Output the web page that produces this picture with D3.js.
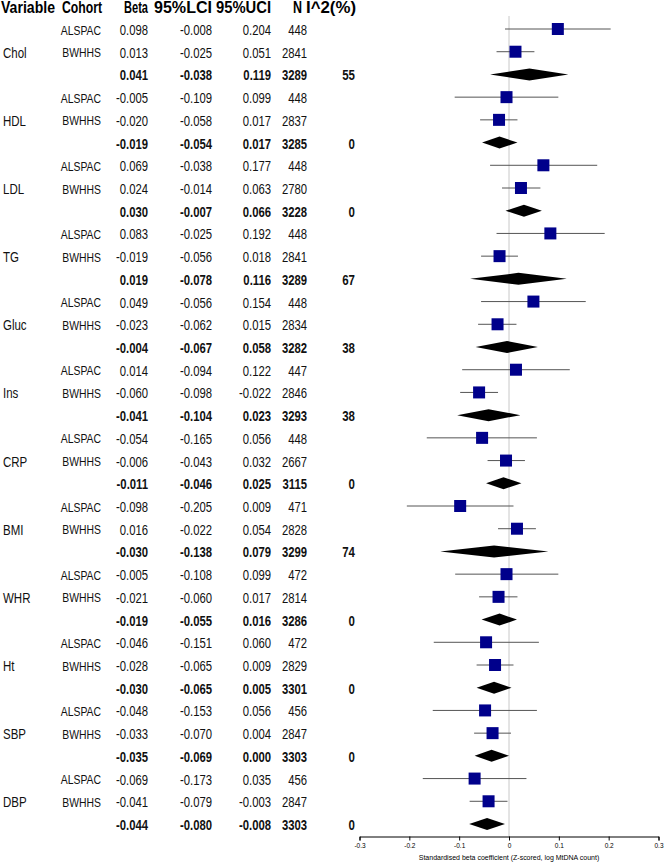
<!DOCTYPE html>
<html>
<head>
<meta charset="utf-8">
<script src="https://cdn.jsdelivr.net/npm/d3@7"></script>
<style>
  body { margin: 0; background: #fff; }
  svg text { font-family: "Liberation Sans", Arial, sans-serif; }
</style>
</head>
<body>
<div id="chart"></div>
<script>
const variables = ["Chol", "HDL", "LDL", "TG", "Gluc", "Ins", "CRP", "BMI", "WHR", "Ht", "SBP", "DBP"];
const cohorts = ["ALSPAC", "BWHHS"];

const alspacBeta = [0.098, -0.005, 0.069, 0.083, 0.049, 0.014, -0.054, -0.098, -0.005, -0.046, -0.048, -0.069];
const alspacLci  = [-0.008, -0.109, -0.038, -0.025, -0.056, -0.094, -0.165, -0.205, -0.108, -0.151, -0.153, -0.173];
const alspacUci  = [0.204, 0.099, 0.177, 0.192, 0.154, 0.122, 0.056, 0.009, 0.099, 0.060, 0.056, 0.035];
const alspacN    = [448, 448, 448, 448, 448, 447, 448, 471, 472, 472, 456, 456];

const bwhhsBeta = [0.013, -0.020, 0.024, -0.019, -0.023, -0.060, -0.006, 0.016, -0.021, -0.028, -0.033, -0.041];
const bwhhsLci  = [-0.025, -0.058, -0.014, -0.056, -0.062, -0.098, -0.043, -0.022, -0.060, -0.065, -0.070, -0.079];
const bwhhsUci  = [0.051, 0.017, 0.063, 0.018, 0.015, -0.022, 0.032, 0.054, 0.017, 0.009, 0.004, -0.003];
const bwhhsN    = [2841, 2837, 2780, 2841, 2834, 2846, 2667, 2828, 2814, 2829, 2847, 2847];

const pooledBeta = [0.041, -0.019, 0.030, 0.019, -0.004, -0.041, -0.011, -0.030, -0.019, -0.030, -0.035, -0.044];
const pooledLci  = [-0.038, -0.054, -0.007, -0.078, -0.067, -0.104, -0.046, -0.138, -0.055, -0.065, -0.069, -0.080];
const pooledUci  = [0.119, 0.017, 0.066, 0.116, 0.058, 0.023, 0.025, 0.079, 0.016, 0.005, 0.000, -0.008];
const pooledN    = [3289, 3285, 3228, 3289, 3282, 3293, 3115, 3299, 3286, 3301, 3303, 3303];
const i2         = [55, 0, 0, 67, 38, 38, 0, 74, 0, 0, 0, 0];

const xTicks = [-0.3, -0.2, -0.1, 0, 0.1, 0.2, 0.3];
const xTitle = "Standardised beta coefficient (Z-scored, log MtDNA count)";

// Build rows: ALSPAC, BWHHS, pooled for each variable
const rows = [];
variables.forEach((v, i) => {
  rows.push({ variable: "", cohort: cohorts[0], beta: alspacBeta[i], lci: alspacLci[i], uci: alspacUci[i], n: alspacN[i], i2: "", pooled: false });
  rows.push({ variable: v, cohort: cohorts[1], beta: bwhhsBeta[i], lci: bwhhsLci[i], uci: bwhhsUci[i], n: bwhhsN[i], i2: "", pooled: false });
  rows.push({ variable: "", cohort: "", beta: pooledBeta[i], lci: pooledLci[i], uci: pooledUci[i], n: pooledN[i], i2: i2[i], pooled: true });
});

const width = 664, height = 862;
const svg = d3.select("#chart").append("svg")
  .attr("width", width)
  .attr("height", height);

const y = d3.scaleLinear().domain([0, rows.length - 1]).range([29, 824]);
const x = d3.scaleLinear().domain([-0.3, 0.3]).range([359.5, 658.5]);
const axisY = 836.5;
const stretch = 1.25; // text in the picture is taller than it is wide

const fmt = v => v.toFixed(3);

// Header (widths forced to match the picture)
const header = [
  { t: "Variable", x: 1, a: "start", w: 54 },
  { t: "Cohort", x: 102, a: "end", w: 40 },
  { t: "Beta", x: 148, a: "end", w: 24 },
  { t: "95%LCI", x: 212, a: "end", w: 58 },
  { t: "95%UCI", x: 271, a: "end", w: 55 },
  { t: "N", x: 302, a: "end", w: 9 },
  { t: "I^2(%)", x: 356, a: "end", w: 50 }
];
svg.append("g").selectAll("text")
  .data(header)
  .join("text")
    .attr("transform", d => `translate(${d.x},8) scale(1,${stretch})`)
    .attr("dy", "0.35em")
    .attr("text-anchor", d => d.a)
    .attr("font-size", "12.5px")
    .attr("font-weight", "bold")
    .attr("textLength", d => d.w)
    .attr("lengthAdjust", "spacingAndGlyphs")
    .text(d => d.t);

// Table columns
const cols = [
  { key: d => d.variable, x: 3, a: "start", fs: 11.5 },
  { key: d => d.cohort, x: 101, a: "end", fs: 10.4 },
  { key: d => fmt(d.beta), x: 148, a: "end", fs: 11.3 },
  { key: d => fmt(d.lci), x: 212, a: "end", fs: 11.3 },
  { key: d => fmt(d.uci), x: 271, a: "end", fs: 11.3 },
  { key: d => d.n, x: 307, a: "end", fs: 11.3 },
  { key: d => d.i2, x: 355, a: "end", fs: 11.5 }
];
const table = svg.append("g");
cols.forEach(c => {
  table.append("g").selectAll("text")
    .data(rows)
    .join("text")
      .attr("transform", (d, i) => `translate(${c.x},${y(i) + 1}) scale(1,${stretch})`)
      .attr("dy", "0.35em")
      .attr("text-anchor", c.a)
      .attr("font-size", c.fs + "px")
      .attr("font-weight", d => d.pooled ? "bold" : "normal")
      .attr("fill", "#111")
      .text(c.key);
});

// Zero reference line
svg.append("line")
  .attr("x1", x(0)).attr("x2", x(0))
  .attr("y1", 16).attr("y2", axisY)
  .attr("stroke", "#c8c8c8")
  .attr("stroke-width", 1);

const studies = rows.filter(d => !d.pooled);
const pooled = rows.filter(d => d.pooled);
const idx = d => rows.indexOf(d);

// CI lines
svg.append("g").selectAll("line")
  .data(studies)
  .join("line")
    .attr("x1", d => x(d.lci))
    .attr("x2", d => x(d.uci))
    .attr("y1", d => y(idx(d)))
    .attr("y2", d => y(idx(d)))
    .attr("stroke", "#555")
    .attr("stroke-width", 1);

// Squares
const sq = 12;
svg.append("g").selectAll("rect")
  .data(studies)
  .join("rect")
    .attr("x", d => x(d.beta) - sq / 2)
    .attr("y", d => y(idx(d)) - sq / 2)
    .attr("width", sq)
    .attr("height", sq)
    .attr("fill", "#00008b");

// Diamonds
svg.append("g").selectAll("polygon")
  .data(pooled)
  .join("polygon")
    .attr("points", d => {
      const yy = y(idx(d));
      return [[x(d.lci), yy], [x(d.beta), yy - 6], [x(d.uci), yy], [x(d.beta), yy + 6]].join(" ");
    })
    .attr("fill", "#000");

// X axis
const axis = svg.append("g")
  .attr("transform", `translate(0,${axisY})`)
  .call(d3.axisBottom(x).tickValues(xTicks).tickSize(4).tickPadding(3)
    .tickFormat(d => d === 0 ? "0" : String(d).replace("\u2212", "-")));
axis.select(".domain").attr("stroke", "#000");
axis.selectAll("line").attr("stroke", "#000");
axis.selectAll("text")
  .attr("font-family", "Liberation Sans, Arial, sans-serif")
  .attr("font-size", "6.5px")
  .attr("fill", "#000");

svg.append("text")
  .attr("transform", `translate(${x(0)},857) scale(1,1.15)`)
  .attr("dy", "0.35em")
  .attr("text-anchor", "middle")
  .attr("font-size", "7px")
  .text(xTitle);
</script>
</body>
</html>
